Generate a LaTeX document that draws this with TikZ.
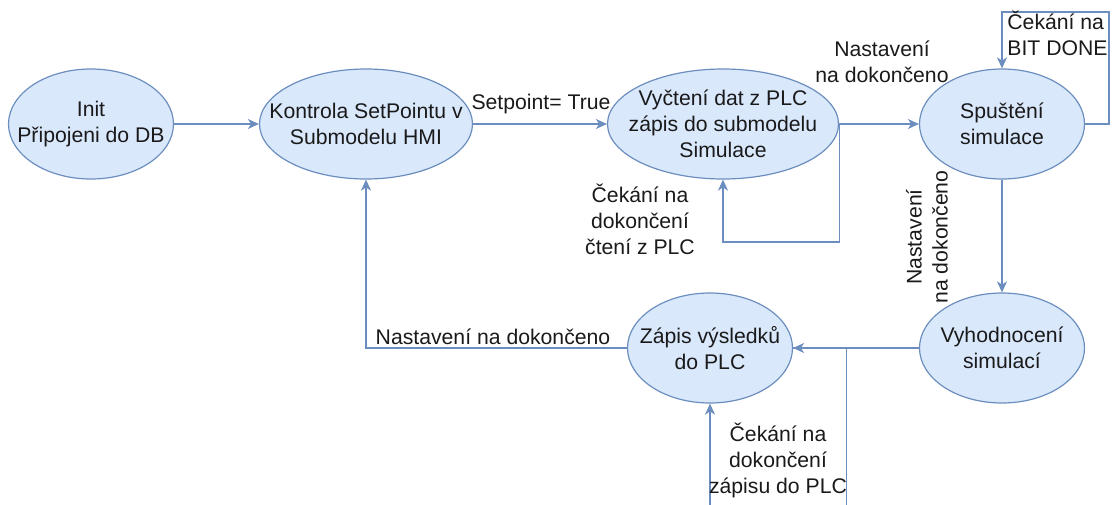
\documentclass[tikz,border=0pt]{standalone}
\usepackage{fontspec}
\setmainfont{Liberation Sans}
\usetikzlibrary{arrows.meta,shapes.geometric}
\definecolor{stateFill}{HTML}{DAE8FC}
\definecolor{stateDraw}{HTML}{6C8EBF}
\definecolor{stateText}{HTML}{1A1A1A}
\tikzset{
  >={Stealth[length=5.5pt,width=5pt,inset=1.6pt]},
  flow/.style={->, draw=stateDraw, line width=0.6pt},
  state/.style={ellipse, draw=stateDraw, fill=stateFill, line width=0.6pt,
                inner sep=0pt, minimum width=82.5pt, minimum height=55pt},
  stateTxt/.style={text=stateText, align=center, inner sep=0pt},
  lbl/.style={text=stateText, align=center, inner sep=1pt}
}

\begin{document}
\begin{tikzpicture}[x=0.5pt, y=-0.5pt, font=\fontsize{10.6}{13}\selectfont]
\useasboundingbox (0,0) rectangle (1115,504);

% ------------------------------------------------------------
% TOP ROW: init, setpoint check, PLC read, simulation start
% ------------------------------------------------------------
\node[state, label={[stateTxt]center:Init\\Připojeni do DB}] (init) at (91,124) {};
\node[state, minimum width=106.5pt,
      label={[stateTxt]center:Kontrola SetPointu v\\Submodelu HMI}] (kon) at (366,124) {};
\node[state, minimum width=115.5pt,
      label={[stateTxt]center:Vyčtení dat z PLC\\zápis do submodelu\\Simulace}] (vyc) at (723,124) {};
\node[state, label={[stateTxt]center:Spuštění\\simulace}] (spu) at (1002,124) {};

% ------------------------------------------------------------
% BOTTOM ROW: evaluation, writing results
% ------------------------------------------------------------
\node[state, label={[stateTxt]center:Vyhodnocení\\simulací}] (vyh) at (1002,348) {};
\node[state, label={[stateTxt]center:Zápis výsledků\\do PLC}] (zap) at (710,348) {};

% transitions
\draw[flow] (init.east) -- (kon.west);
\draw[flow] (kon.east) -- (vyc.west);
\node[lbl] (tSet) at (541,104) {Setpoint= True};
\draw[flow] (vyc.east) -- (spu.west);
\node[lbl] (tVycDone) at (882,62) {Nastavení\\na dokončeno};

% wait loop on PLC read
\draw[flow] (vyc.east) -- ++(0,118) -| (vyc.south);
\node[lbl] (tVycWait) at (640,219) {Čekání na\\dokončení\\čtení z PLC};

% wait loop on BIT DONE
\coordinate (bitTop) at (1109,12);
\draw[flow] (spu.east) -| (bitTop) -| (spu.north);
\node[lbl, align=left, anchor=north west] (tBit) at (1005,9) {Čekání na\\BIT DONE};

% simulation -> evaluation
\draw[flow] (spu.south) -- (vyh.north);
\node[lbl, rotate=90] (tSpuDone) at (927,237) {Nastavení\\na dokončeno};

% evaluation -> write results, with wait loop
\draw[flow] (vyh.west) -- (zap.east);
\draw[flow] (zap.east) -- ++(53,0) -- ++(0,175) -| (zap.south);
\node[lbl] (tZapWait) at (778,460) {Čekání na\\dokončení\\zápisu do PLC};

% back to setpoint check
\draw[flow] (zap.west) -| (kon.south);
\node[lbl] (tZapDone) at (493,337) {Nastavení na dokončeno};

\end{tikzpicture}
\end{document}
